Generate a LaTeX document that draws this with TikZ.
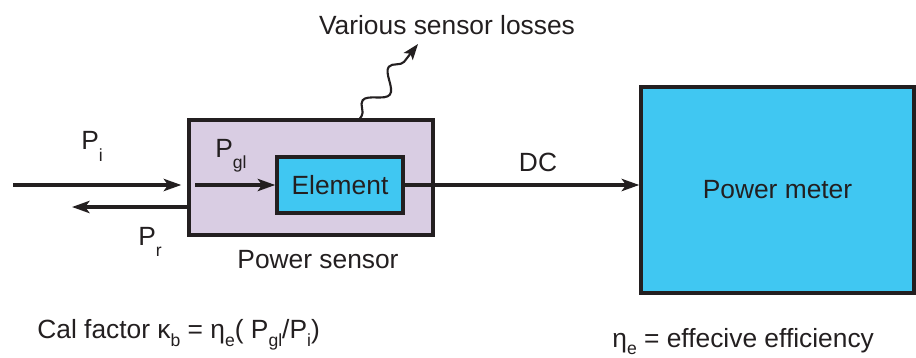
\documentclass[tikz,border=0pt]{standalone}
\usepackage{fontspec}
\setmainfont{Liberation Sans}
\usepackage{tikz}
\usetikzlibrary{arrows.meta,decorations.pathmorphing}
\definecolor{ink}{RGB}{35,31,32}
\definecolor{sensorlilac}{RGB}{217,205,227}
\definecolor{metercyan}{RGB}{64,199,242}
\newcommand{\lowidx}[2][6.8pt]{\raisebox{-#1}{\fontsize{10}{10}\selectfont #2}}

\begin{document}
\begin{tikzpicture}[x=.02cm,y=-.02cm,
    box/.style={draw=ink,line width=2pt,inner sep=0pt},
    flow/.style={draw=ink,line width=1.8pt,-{Stealth[length=10pt,width=7pt,inset=2.5pt]}},
    lbl/.style={text=ink,inner sep=0pt,font=\fontsize{15}{17}\selectfont}]
  \useasboundingbox (0,0) rectangle (916,358);
  % blocks
  \node[box,fill=sensorlilac,minimum width=4.88cm,minimum height=2.3cm] (sensor) at (311,177.5) {};
  \node[box,lbl,fill=metercyan,minimum width=2.52cm,minimum height=1.12cm] (element) at (340,185) {Element};
  \node[box,lbl,fill=metercyan,minimum width=5.46cm,minimum height=4.12cm] (meter) at (777.5,190) {Power meter};
  % free ends
  \coordinate (src) at (13,185);
  \coordinate (ret) at (72,207);
  \coordinate (glin) at (195,185);
  \coordinate (loss) at (418,44);
  % connectors
  \draw[flow,shorten >=3.4pt] (src) -- (src -| sensor.west);
  \draw[flow] (sensor.west |- ret) -- (ret);
  \draw[flow] (glin) -- (element.west);
  \draw[flow] (element.east) -- (element.east -| meter.west);
  \draw[draw=ink,line width=1.2pt,-{Stealth[length=9pt,width=6.5pt,inset=2pt]},decorate,
    decoration={snake,amplitude=1.8mm,segment length=8.5mm,pre length=.5mm,post length=2.5mm}]
    ([xshift=.98cm]sensor.north) -- (loss);
  % labels
  \node[lbl,anchor=base west] (pi) at (81,150) {P\lowidx{i}};
  \node[lbl,anchor=base west] (pgl) at (215,157) {P\lowidx{gl}};
  \node[lbl,anchor=base west] (pr) at (138,245) {P\lowidx{r}};
  \node[lbl,anchor=base] (dc) at (538,172) {DC};
  \node[lbl,anchor=base] (sname) at (318,268) {Power sensor};
  \node[lbl,anchor=base] (losses) at (447,35) {Various sensor losses};
  \node[lbl,anchor=base west] (cal) at (37,338) {Cal factor κ\lowidx[5pt]{b} = η\lowidx[5pt]{e}( P\lowidx[5pt]{gl}/P\lowidx[5pt]{i})};
  \node[lbl,anchor=base west] (eff) at (612,347) {η\lowidx[4.5pt]{e} = effecive efficiency};
\end{tikzpicture}
\end{document}
